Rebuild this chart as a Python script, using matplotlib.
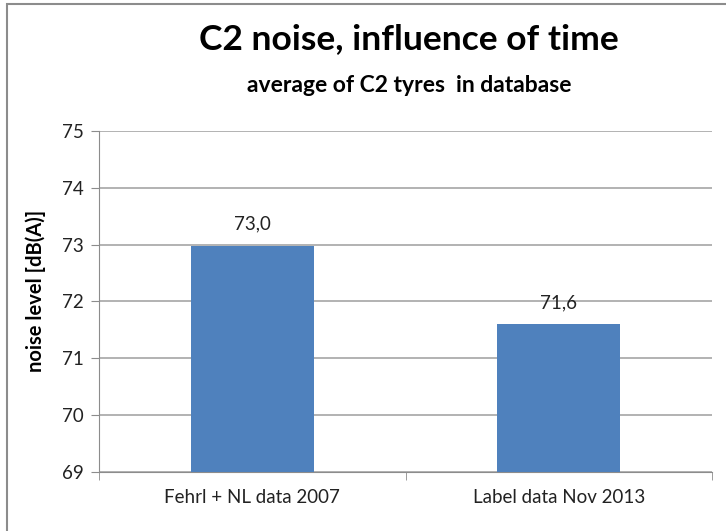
import matplotlib
matplotlib.use("Agg")
import matplotlib.pyplot as plt
from matplotlib.patches import Rectangle

categories = ["Fehrl + NL data 2007", "Label data Nov 2013"]
values = [72.98, 71.6]
value_labels = ["73,0", "71,6"]
yticks = [69, 70, 71, 72, 73, 74, 75]

plt.rcParams['font.family'] = ['Lato', 'DejaVu Sans']

fig = plt.figure(figsize=(7.26, 5.31), dpi=100)
# outer chart border (cropped at right/bottom)
fig.patches.append(Rectangle((7/726, -0.1), 1.2, 1 - 4/531 + 0.1, transform=fig.transFigure,
                             fill=False, edgecolor='#8c8c8c', linewidth=1.5))

ax = fig.add_axes([99/726, 59/531, 613/726, 341/531])
x = list(range(len(categories)))
ax.bar(x, [v - 69 for v in values], bottom=69, width=0.4, color='#4F81BD', zorder=3)
ax.set_xlim(-0.5, len(categories) - 0.5)
ax.set_ylim(69, 75)
ax.set_yticks(yticks)
ax.set_yticklabels([str(t) for t in yticks], fontsize=13.5, color='#222222')
ax.yaxis.grid(True, color='#a6a6a6', linewidth=1.2, zorder=0)
ax.tick_params(axis='y', length=6, color='#8c8c8c', pad=5)
ax.set_xticks(x)
ax.set_xticklabels(categories, fontsize=13.5, color='#222222')
ax.tick_params(axis='x', length=0, pad=12)
ax.set_xticks([-0.5, 0.5, 1.5], minor=True)
ax.tick_params(axis='x', which='minor', length=6, color='#8c8c8c')
for s in ['top', 'right']:
    ax.spines[s].set_visible(False)
ax.spines['left'].set_color('#8c8c8c')
ax.spines['bottom'].set_color('#8c8c8c')
ax.set_ylabel("noise level [dB(A)]", fontsize=14.5, fontweight='bold', va='center')
ax.yaxis.set_label_coords(-0.104, 0.53)

for xi, v, lab in zip(x, values, value_labels):
    ax.annotate(lab, (xi, v), xytext=(0, 11.5), textcoords='offset points',
                ha='center', va='baseline', fontsize=13.5, color='#222222')

fig.text(409/726, 1 - 49/531, "C2 noise, influence of time", ha='center', va='baseline',
         fontsize=25.5, fontweight='bold')
fig.text(409/726, 1 - 92/531, "average of C2 tyres  in database", ha='center', va='baseline',
         fontsize=16.5, fontweight='bold')

fig.savefig("out.png", dpi=100)
